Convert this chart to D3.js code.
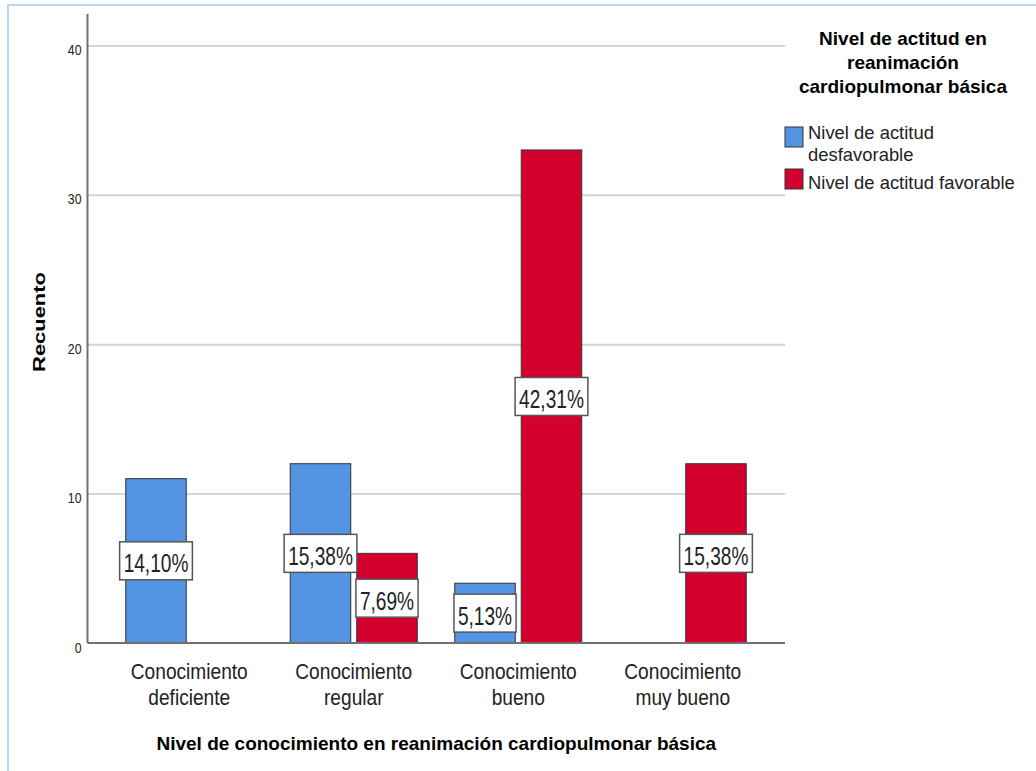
<!DOCTYPE html>
<html>
<head>
<meta charset="utf-8">
<script src="https://cdn.jsdelivr.net/npm/d3@7"></script>
<style>
  body { margin: 0; background: #fff; }
  svg { display: block; font-family: "Liberation Sans", Arial, sans-serif; }
</style>
</head>
<body>
<div id="chart"></div>
<script>
// data
var categories = ["Conocimiento deficiente", "Conocimiento regular", "Conocimiento bueno", "Conocimiento muy bueno"];
var series = ["Nivel de actitud desfavorable", "Nivel de actitud favorable"];
var desfavorable = [11, 12, 4, 0];
var favorable = [0, 6, 33, 12];
var pctDesfavorable = ["14,10%", "15,38%", "5,13%", ""];
var pctFavorable = ["", "7,69%", "42,31%", "15,38%"];
var yTicks = [0, 10, 20, 30, 40];
var colors = ["#5394e3", "#d3002f"];

var width = 1036, height = 771;
var SX = 0.735; // regular text in the source is rendered narrow

var svg = d3.select("#chart").append("svg")
    .attr("width", width)
    .attr("height", height);

// light blue frame
svg.append("rect")
    .attr("x", 8).attr("y", 5)
    .attr("width", 1200).attr("height", 900)
    .attr("fill", "none")
    .attr("stroke", "#b9d5f2")
    .attr("stroke-width", 2);

var plotLeft = 87.5, plotRight = 785, plotTop = 14, plotBottom = 643;

var y = d3.scaleLinear().domain([0, 42.1]).range([plotBottom, plotTop]);
var x0 = d3.scaleBand().domain(categories).range([107, 765]).padding(0);
var x1 = d3.scaleBand().domain(series).range([0, x0.bandwidth()])
    .paddingInner(0.09).paddingOuter(0.282);

// gridlines
var grid = svg.append("g")
    .attr("transform", "translate(" + plotLeft + ",0)")
    .call(d3.axisLeft(y).tickValues(yTicks.slice(1)).tickSize(-(plotRight - plotLeft)).tickFormat(""));
grid.select(".domain").remove();
grid.selectAll("line").attr("stroke", "#d3d3d3").attr("stroke-width", 2);

// y axis labels
var yAxis = svg.append("g")
    .attr("transform", "translate(" + plotLeft + ",0)")
    .call(d3.axisLeft(y).tickValues(yTicks).tickSize(0).tickPadding(6));
yAxis.select(".domain").remove();
yAxis.selectAll("text")
    .attr("font-size", 15)
    .attr("fill", "#222")
    .attr("dy", null)
    .attr("x", null)
    .attr("transform", "translate(-6,9) scale(0.82,1)");

// bars
var rows = categories.map(function (c, i) {
    return [
        { cat: c, s: series[0], v: desfavorable[i], pct: pctDesfavorable[i], c: colors[0] },
        { cat: c, s: series[1], v: favorable[i], pct: pctFavorable[i], c: colors[1] }
    ];
});
var flat = [].concat.apply([], rows).filter(function (d) { return d.v > 0; });

svg.append("g").selectAll("rect")
    .data(flat)
    .enter().append("rect")
    .attr("x", function (d) { return x0(d.cat) + x1(d.s); })
    .attr("y", function (d) { return y(d.v); })
    .attr("width", x1.bandwidth())
    .attr("height", function (d) { return y(0) - y(d.v); })
    .attr("fill", function (d) { return d.c; })
    .attr("stroke", "#333")
    .attr("stroke-width", 1);

// axis lines
svg.append("line")
    .attr("x1", plotLeft).attr("x2", plotLeft)
    .attr("y1", plotTop).attr("y2", plotBottom)
    .attr("stroke", "#707070").attr("stroke-width", 2);
svg.append("line")
    .attr("x1", plotLeft).attr("x2", plotRight)
    .attr("y1", plotBottom).attr("y2", plotBottom)
    .attr("stroke", "#707070").attr("stroke-width", 2);

// percentage boxes
var labels = svg.append("g").selectAll("g")
    .data(flat)
    .enter().append("g")
    .attr("transform", function (d) {
        var cx = x0(d.cat) + x1(d.s) + x1.bandwidth() / 2;
        var cy = (y(d.v) + y(0)) / 2;
        return "translate(" + cx + "," + cy + ")";
    });
labels.each(function (d) {
    var g = d3.select(this);
    var rect = g.append("rect");
    var t = g.append("text")
        .attr("text-anchor", "middle")
        .attr("font-size", 26)
        .attr("fill", "#222")
        .attr("transform", "translate(0,11.5) scale(" + SX + ",1)")
        .text(d.pct);
    var w = t.node().getBBox().width * SX + 8;
    rect.attr("x", -w / 2).attr("y", -19)
        .attr("width", w).attr("height", 38)
        .attr("fill", "#fff")
        .attr("stroke", "#555")
        .attr("stroke-width", 1.5);
});

// x axis category labels, two lines in one text element
var xAxis = svg.append("g")
    .attr("transform", "translate(0," + plotBottom + ")")
    .call(d3.axisBottom(x0).tickSize(0).tickFormat(""));
xAxis.select(".domain").remove();
xAxis.selectAll(".tick").each(function (d) {
    var parts = d.split(" ");
    var lines = [parts[0], parts.slice(1).join(" ")];
    var t = d3.select(this).append("text")
        .attr("text-anchor", "middle")
        .attr("font-size", 22.5)
        .attr("fill", "#222")
        .attr("transform", "translate(0,36) scale(0.85,1)");
    lines.forEach(function (ln, k) {
        t.append("tspan").attr("x", 0).attr("dy", k === 0 ? 0 : 26).text(ln);
    });
});

// axis titles
svg.append("text")
    .attr("x", (plotLeft + plotRight) / 2)
    .attr("y", 750)
    .attr("text-anchor", "middle")
    .attr("font-size", 19)
    .attr("font-weight", "bold")
    .attr("fill", "#000")
    .text("Nivel de conocimiento en reanimación cardiopulmonar básica");

svg.append("text")
    .attr("text-anchor", "middle")
    .attr("font-size", 17)
    .attr("font-weight", "bold")
    .attr("fill", "#000")
    .attr("transform", "translate(45,322) rotate(-90) scale(1.29,1)")
    .text("Recuento");

// legend
var legendTitle = ["Nivel de actitud en", "reanimación", "cardiopulmonar básica"];
var lt = svg.append("text")
    .attr("x", 903)
    .attr("y", 45)
    .attr("text-anchor", "middle")
    .attr("font-size", 19)
    .attr("font-weight", "bold")
    .attr("fill", "#000");
legendTitle.forEach(function (ln, i) {
    lt.append("tspan").attr("x", 903).attr("dy", i === 0 ? 0 : 24).text(ln);
});

var legendItems = [
    { lines: ["Nivel de actitud", "desfavorable"], c: colors[0], top: 127, base: 139 },
    { lines: ["Nivel de actitud favorable"], c: colors[1], top: 169, base: 189 }
];
var lg = svg.append("g").selectAll("g")
    .data(legendItems)
    .enter().append("g");
lg.append("rect")
    .attr("x", 785).attr("y", function (d) { return d.top; })
    .attr("width", 18).attr("height", 20)
    .attr("fill", function (d) { return d.c; })
    .attr("stroke", "#333").attr("stroke-width", 1);
lg.each(function (d) {
    var t = d3.select(this).append("text")
        .attr("font-size", 19)
        .attr("fill", "#222")
        .attr("transform", "translate(808," + d.base + ") scale(0.97,1)");
    d.lines.forEach(function (ln, k) {
        t.append("tspan").attr("x", 0).attr("dy", k === 0 ? 0 : 22).text(ln);
    });
});
</script>
</body>
</html>
